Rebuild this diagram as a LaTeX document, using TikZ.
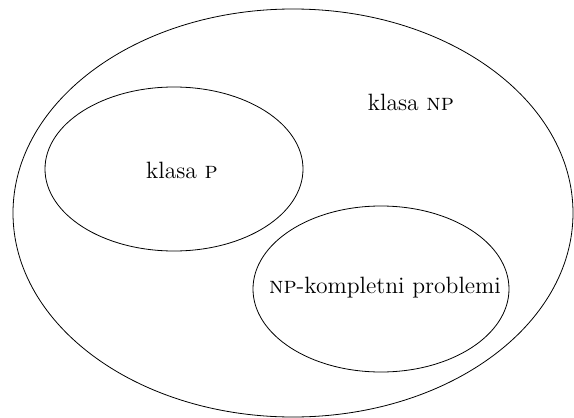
\documentclass[tikz,border=0pt]{standalone}
\usetikzlibrary{shapes.geometric}

\begin{document}
\begin{tikzpicture}[x=0.5pt,y=-0.5pt]
  \tikzstyle{set}=[draw,ellipse,inner sep=0pt]
  \tikzstyle{lbl}=[inner sep=0pt,font=\fontsize{11.8}{13}\selectfont]
  \useasboundingbox (0,0) rectangle (574,418);
  \node[set,minimum width=280pt,minimum height=204pt] (np) at (293,213) {};
  \node[set,minimum width=129pt,minimum height=82pt] (p) at (174,169) {};
  \node[set,minimum width=128pt,minimum height=83pt] (npc) at (381,289) {};
  \node[lbl] (npl) at (411,102) {klasa \textsc{np}};
  \node[lbl] (pl) at (182,170) {klasa \textsc{p}};
  \node[lbl] (npcl) at (385,288) {\textsc{np}-kompletni problemi};
\end{tikzpicture}
\end{document}
